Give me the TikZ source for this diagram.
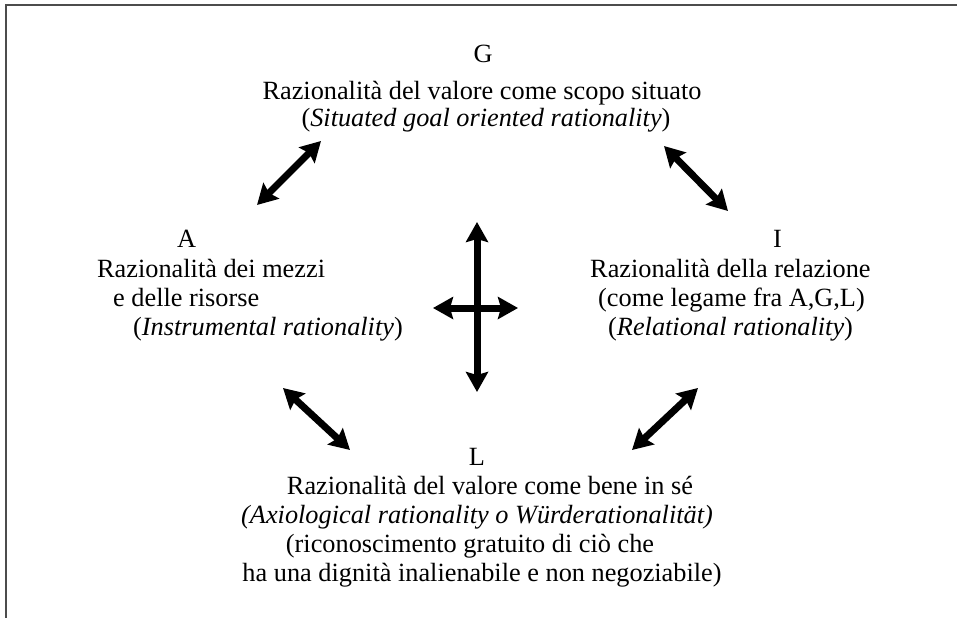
\documentclass[tikz,border=0pt]{standalone}
\usepackage{fontspec}
\setmainfont{Liberation Serif}
\usetikzlibrary{arrows.meta}
\begin{document}
\begin{tikzpicture}[x=1pt,y=-1pt,
  txt/.style={inner sep=0pt, font=\fontsize{26.3}{30}\selectfont},
  lt/.style={txt, anchor=base west},
  ct/.style={txt, anchor=base},
  dbl/.style={line width=7pt, {Stealth[length=20pt,width=22pt,inset=3pt]}-{Stealth[length=20pt,width=22pt,inset=3pt]}},
  frame/.style={line width=2pt, draw=black!70}]
\useasboundingbox (0,0) rectangle (957,618);
% frame
\coordinate (f1) at (957,5);
\coordinate (f2) at (6,5);
\coordinate (f3) at (6,618);
\draw[frame] (f1) -- (f2) -- (f3);
% G
\node[ct] (g0) at (483,63) {G};
\node[ct] (g1) at (482,99) {Razionalità del valore come scopo situato};
\node[ct] (g2) at (486,126) {(\textit{Situated goal oriented rationality})};
% A
\node[lt] (a0) at (177,247) {A};
\node[lt] (a1) at (97,277) {Razionalità dei mezzi};
\node[lt] (a2) at (113,306) {e delle risorse};
\node[lt] (a3) at (133,335) {(\textit{Instrumental rationality})};
% I
\node[lt] (i0) at (773,247) {I};
\node[lt] (i1) at (590,277) {Razionalità della relazione};
\node[lt] (i2) at (598,306) {(come legame fra A,G,L)};
\node[lt] (i3) at (608,335) {(\textit{Relational rationality})};
% L
\node[ct] (l0) at (477,465) {L};
\node[ct] (l1) at (490,494) {Razionalità del valore come bene in sé};
\node[ct] (l2) at (477,523) {\textit{(Axiological rationality o Würderationalität)}};
\node[ct] (l3) at (470,552) {(riconoscimento gratuito di ciò che};
\node[ct] (l4) at (482,581) {ha una dignità inalienabile e non negoziabile)};
% arrow end points
\coordinate (vt) at (477,222);
\coordinate (vb) at (477,392);
\coordinate (hl) at (433,308);
\coordinate (hr) at (518,308);
\coordinate (ga1) at (257,205);
\coordinate (ga2) at (321,141);
\coordinate (gi1) at (664,146);
\coordinate (gi2) at (728,211);
\coordinate (al1) at (283,388);
\coordinate (al2) at (350,450);
\coordinate (il1) at (698,388);
\coordinate (il2) at (632,450);
\draw[dbl] (vt) -- (vb);
\draw[dbl] (hl) -- (hr);
\draw[dbl] (ga1) -- (ga2);
\draw[dbl] (gi1) -- (gi2);
\draw[dbl] (al1) -- (al2);
\draw[dbl] (il1) -- (il2);
\end{tikzpicture}
\end{document}
